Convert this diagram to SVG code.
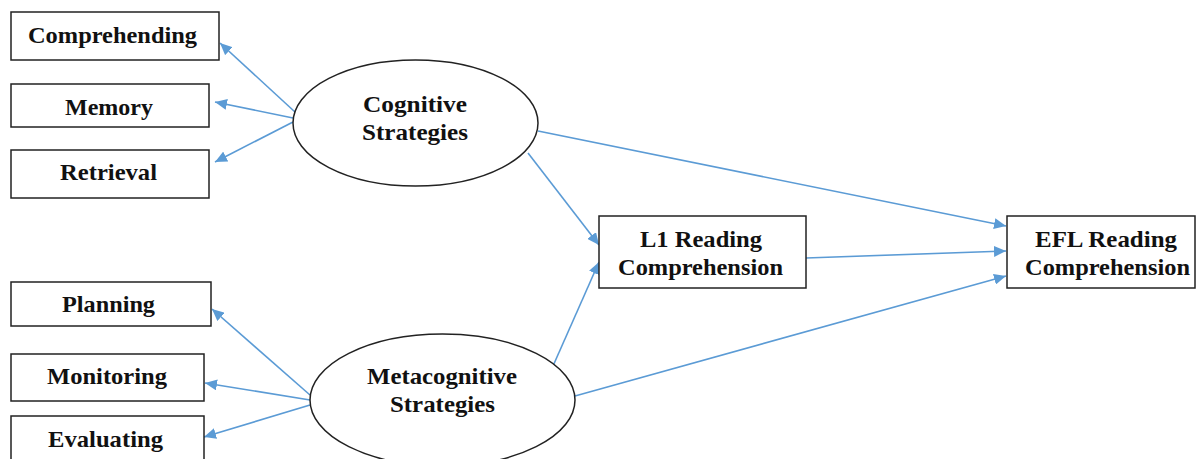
<svg xmlns="http://www.w3.org/2000/svg" width="1197" height="459" viewBox="0 0 1197 459">
<style>
.box{fill:#fff;stroke:#222;stroke-width:1.5}
.ell{fill:#fff;stroke:#222;stroke-width:1.5}
.lbl{font-family:"Liberation Serif","Times New Roman",serif;font-weight:bold;font-size:23.5px;fill:#111;text-anchor:middle}
.con{stroke:#5B9BD5;stroke-width:1.6;fill:none;marker-end:url(#ah)}
</style>
<defs>
<marker id="ah" markerUnits="userSpaceOnUse" markerWidth="13" markerHeight="11" refX="12" refY="5.5" orient="auto">
<path d="M0,0 L12,5.5 L0,11 z" fill="#5B9BD5"/>
</marker>
</defs>
<rect width="1197" height="459" fill="#fff"/>
<g id="connectors">
<line class="con" x1="295" y1="112" x2="220" y2="43"/>
<line class="con" x1="293" y1="118" x2="215" y2="102"/>
<line class="con" x1="293" y1="122" x2="215" y2="162"/>
<line class="con" x1="310" y1="395" x2="212" y2="309"/>
<line class="con" x1="310" y1="400" x2="205" y2="383"/>
<line class="con" x1="310" y1="405" x2="204" y2="437"/>
<line class="con" x1="528" y1="153" x2="599" y2="245"/>
<line class="con" x1="553" y1="366" x2="599" y2="262"/>
<line class="con" x1="538" y1="131" x2="1006" y2="226"/>
<line class="con" x1="806" y1="258" x2="1006" y2="251"/>
<line class="con" x1="575" y1="396" x2="1006" y2="276"/>
</g>
<g id="comprehending">
<rect class="box" x="11" y="12" width="208" height="48"/>
<text class="lbl" x="112.5" y="43" textLength="169" lengthAdjust="spacingAndGlyphs">Comprehending</text>
</g>
<g id="memory">
<rect class="box" x="11" y="84" width="198" height="43"/>
<text class="lbl" x="109" y="115" textLength="88" lengthAdjust="spacingAndGlyphs">Memory</text>
</g>
<g id="retrieval">
<rect class="box" x="11" y="150" width="198" height="48"/>
<text class="lbl" x="108.5" y="180" textLength="97" lengthAdjust="spacingAndGlyphs">Retrieval</text>
</g>
<g id="planning">
<rect class="box" x="11" y="282" width="200" height="44"/>
<text class="lbl" x="108.5" y="312" textLength="93" lengthAdjust="spacingAndGlyphs">Planning</text>
</g>
<g id="monitoring">
<rect class="box" x="11" y="354" width="193" height="47"/>
<text class="lbl" x="107" y="384" textLength="120" lengthAdjust="spacingAndGlyphs">Monitoring</text>
</g>
<g id="evaluating">
<rect class="box" x="11" y="416" width="193" height="60"/>
<text class="lbl" x="105.5" y="447" textLength="115" lengthAdjust="spacingAndGlyphs">Evaluating</text>
</g>
<g id="cognitive">
<ellipse class="ell" cx="415.5" cy="123" rx="122.5" ry="63"/>
<text class="lbl" x="415" y="112" textLength="104" lengthAdjust="spacingAndGlyphs">Cognitive</text>
<text class="lbl" x="415" y="140" textLength="106" lengthAdjust="spacingAndGlyphs">Strategies</text>
</g>
<g id="metacognitive">
<ellipse class="ell" cx="442.5" cy="400" rx="132.5" ry="66"/>
<text class="lbl" x="442" y="384" textLength="150" lengthAdjust="spacingAndGlyphs">Metacognitive</text>
<text class="lbl" x="442.5" y="412" textLength="105" lengthAdjust="spacingAndGlyphs">Strategies</text>
</g>
<g id="l1">
<rect class="box" x="599" y="216" width="207" height="72"/>
<text class="lbl" x="701" y="247" textLength="122" lengthAdjust="spacingAndGlyphs">L1 Reading</text>
<text class="lbl" x="700.5" y="275" textLength="165" lengthAdjust="spacingAndGlyphs">Comprehension</text>
</g>
<g id="efl">
<rect class="box" x="1007" y="216" width="188" height="72"/>
<text class="lbl" x="1106" y="247" textLength="142" lengthAdjust="spacingAndGlyphs">EFL Reading</text>
<text class="lbl" x="1107.5" y="275" textLength="165" lengthAdjust="spacingAndGlyphs">Comprehension</text>
</g>
</svg>
